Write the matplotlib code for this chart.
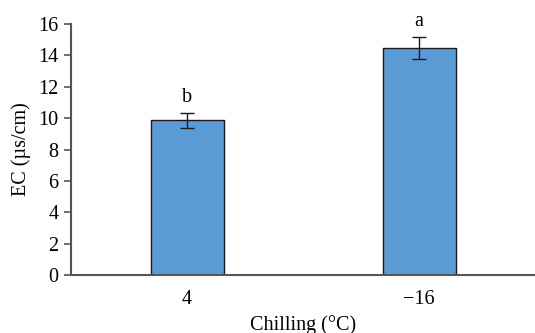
import matplotlib
matplotlib.use("Agg")
import matplotlib.pyplot as plt

categories = ["4", "\u221216"]
values = [9.85, 14.45]
errors = [0.48, 0.7]
letters = ["b", "a"]
yticks = [0, 2, 4, 6, 8, 10, 12, 14, 16]

plt.rcParams['font.family'] = ['Liberation Serif', 'DejaVu Serif']
fs = 14.5
fig = plt.figure(figsize=(5.35, 3.33), dpi=100)
ax = fig.add_axes([0.133, 0.174, 0.867, 0.754])
x = list(range(len(categories)))
ax.bar(x, values, width=0.315, color="#5B9BD5", edgecolor="#1a1a1a", linewidth=1.0,
       yerr=errors, error_kw=dict(ecolor="#1a1a1a", elinewidth=1.0, capsize=5, capthick=1.0), zorder=2)
for xi, v, e, l in zip(x, values, errors, letters):
    ax.text(xi, v + e + 0.4, l, ha="center", va="bottom", fontsize=fs)
ax.set_xlim(-0.5, 1.5)
ax.set_ylim(0, 16)
ax.set_yticks(yticks)
ax.set_xticks(x)
ax.set_xticklabels(categories)
ax.tick_params(axis='x', length=0, pad=11, labelsize=fs)
ax.tick_params(axis='y', length=5, width=1.2, color="#555555", direction='out', labelsize=fs, pad=4)
for s in ["top", "right"]:
    ax.spines[s].set_visible(False)
for s in ["left", "bottom"]:
    ax.spines[s].set_color("#555555")
    ax.spines[s].set_linewidth(1.5)
ax.set_ylabel("EC (\u00b5s/cm)", fontsize=fs, labelpad=5)
ax.set_xlabel("Chilling (\u00b0C)", fontsize=fs, labelpad=4)
fig.savefig("out.png", dpi=100)
